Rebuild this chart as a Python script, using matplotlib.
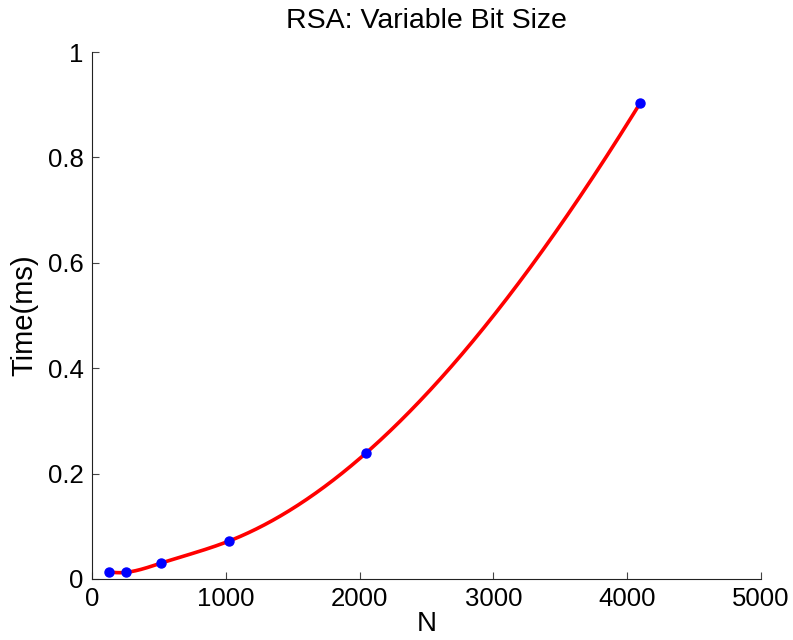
import numpy as np
import matplotlib
matplotlib.use("Agg")
import matplotlib.pyplot as plt

# Data
bit_sizes = [128, 256, 512, 1024, 2048, 4096]
times_ms = [0.0139, 0.0127, 0.0298, 0.0720, 0.2390, 0.9027]
x_ticks = [0, 1000, 2000, 3000, 4000, 5000]
y_ticks = [0, 0.2, 0.4, 0.6, 0.8, 1]
y_tick_labels = ["0", "0.2", "0.4", "0.6", "0.8", "1"]


def not_a_knot_spline(x, y, xs):
    x = np.asarray(x, float)
    y = np.asarray(y, float)
    n = len(x)
    h = np.diff(x)
    A = np.zeros((n, n))
    b = np.zeros(n)
    # not-a-knot end conditions on second derivatives M
    A[0, 0] = h[1]
    A[0, 1] = -(h[0] + h[1])
    A[0, 2] = h[0]
    A[-1, -3] = h[-1]
    A[-1, -2] = -(h[-2] + h[-1])
    A[-1, -1] = h[-2]
    for i in range(1, n - 1):
        A[i, i - 1] = h[i - 1]
        A[i, i] = 2 * (h[i - 1] + h[i])
        A[i, i + 1] = h[i]
        b[i] = 6 * ((y[i + 1] - y[i]) / h[i] - (y[i] - y[i - 1]) / h[i - 1])
    M = np.linalg.solve(A, b)
    idx = np.clip(np.searchsorted(x, xs) - 1, 0, n - 2)
    xi, xi1 = x[idx], x[idx + 1]
    hi = xi1 - xi
    t1 = xi1 - xs
    t0 = xs - xi
    return (M[idx] * t1 ** 3 / (6 * hi) + M[idx + 1] * t0 ** 3 / (6 * hi)
            + (y[idx] / hi - M[idx] * hi / 6) * t1
            + (y[idx + 1] / hi - M[idx + 1] * hi / 6) * t0)


plt.rcParams['font.family'] = ['Liberation Sans', 'DejaVu Sans']

fig = plt.figure(figsize=(7.93, 6.40), dpi=100)
ax = fig.add_axes([92 / 793, 61 / 640, (761 - 92) / 793, (579 - 52) / 640])

xs = np.linspace(bit_sizes[0], bit_sizes[-1], 600)
ax.plot(xs, not_a_knot_spline(bit_sizes, times_ms, xs), color='#ff0000', lw=2.6,
        solid_capstyle='butt', zorder=2)
ax.plot(bit_sizes, times_ms, 'o', color='#0000ff', markersize=6.5, zorder=3)

ax.set_xlim(0, 5000)
ax.set_ylim(0, 1)
ax.set_xticks(x_ticks)
ax.set_yticks(y_ticks)
ax.set_yticklabels(y_tick_labels)
ax.spines['top'].set_visible(False)
ax.spines['right'].set_visible(False)
for s in ('left', 'bottom'):
    ax.spines[s].set_linewidth(0.8)
    ax.spines[s].set_color('#222222')
ax.tick_params(direction='in', length=5, width=0.8, colors='#444444',
               labelcolor='black', labelsize=18.5, pad=6)

ax.set_title("RSA: Variable Bit Size", fontsize=20.5, pad=17)
ax.set_xlabel("N", fontsize=20, labelpad=0)
ax.set_ylabel("Time(ms)", fontsize=21, labelpad=7)

fig.savefig("out.png", dpi=100)
